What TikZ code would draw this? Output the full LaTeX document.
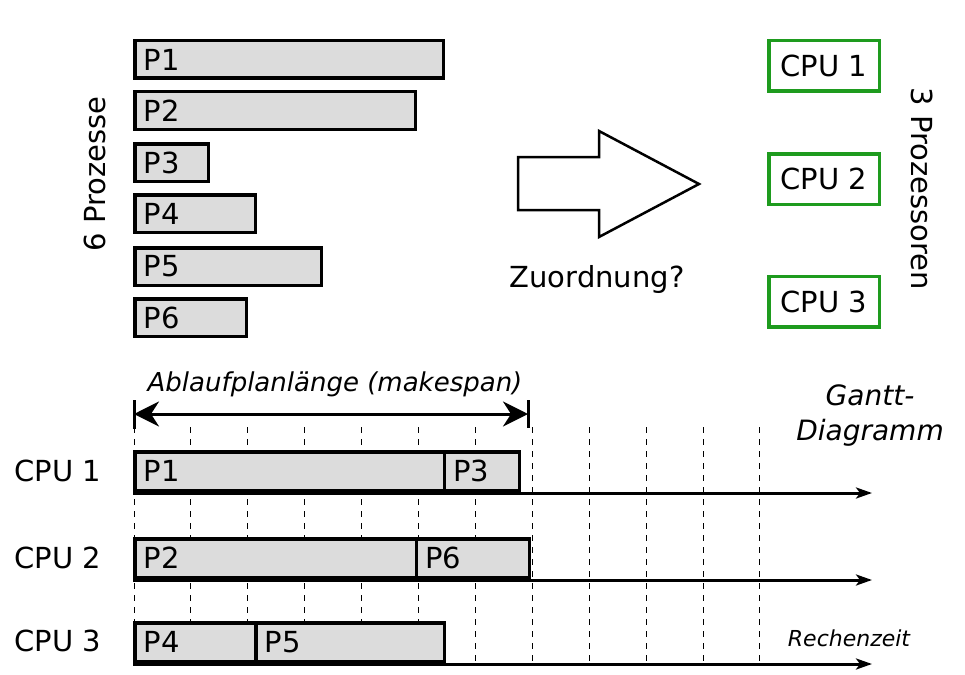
\documentclass[tikz,border=0pt]{standalone}
\usepackage{fontspec}
\setmainfont{DejaVu Sans}
\usetikzlibrary{arrows.meta}
\definecolor{barfill}{RGB}{220,220,220}
\definecolor{cpugreen}{RGB}{30,155,30}
\tikzset{
  bar/.style={draw, line width=3.5pt, fill=barfill, anchor=north west, inner xsep=9pt, inner ysep=0pt, align=left},
  cpubox/.style={draw=cpugreen, line width=3.5pt, minimum width=110.5pt, minimum height=50.5pt},
  slot/.style={dash pattern=on 6pt off 6pt, line width=1pt},
  timeline/.style={line width=3pt, -{Stealth[length=16pt,width=11pt,inset=4pt]}}
}
\begin{document}
\begin{tikzpicture}[x=1pt, y=-1pt, font=\fontsize{29}{35}\selectfont]
  \useasboundingbox (0,0) rectangle (965,674);
  % processes
  \foreach \n/\y/\w in {1/39/290.5, 2/90/262.5, 3/142/55.5, 4/193/102.5, 5/246/168.5, 6/297/93.5}
    \node[bar, text width=\w pt, minimum height=37.5pt] (p\n) at (133,\y) {P\n};
  \node[rotate=90] (prozesse) at (95,174) {6 Prozesse};
  % assignment arrow
  \draw[line width=2.5pt, line join=miter] (518,157) -- (599,157) -- (599,131) -- (699,184)
    -- (599,237) -- (599,210) -- (518,210) -- cycle;
  \node (zuordnung) at (597,279) {Zuordnung?};
  % processors
  \node[cpubox] (cpu1) at (824,66) {CPU 1};
  \node[cpubox] (cpu2) at (824,179) {CPU 2};
  \node[cpubox] (cpu3) at (824,301.5) {CPU 3};
  \node[rotate=-90] (prozessoren) at (922,189) {3 Prozessoren};
  % gantt chart
  \foreach \k in {0,...,11}
    \draw[slot] ({134+56.9*\k},427) -- ({134+56.9*\k},664);
  \coordinate (ms start) at (134,414);
  \coordinate (ms end) at (528,414);
  \draw[line width=3pt] (134,400) -- (134,429) (528,400) -- (528,428);
  \draw[line width=3pt, {Stealth[length=25pt,width=25pt,inset=8pt]}-{Stealth[length=25pt,width=25pt,inset=8pt]}] (ms start) -- (ms end);
  \node[font=\fontsize{26}{31}\selectfont\itshape] (makespan) at (335,384) {Ablaufplanlänge (makespan)};
  \node[font=\fontsize{28}{35}\selectfont\itshape, align=center] (gantt) at (870,416) {Gantt-\\Diagramm};
  \node[font=\fontsize{22}{26}\selectfont\itshape] (rechenzeit) at (849,638) {Rechenzeit};
  \node[bar, text width=291.5pt, minimum height=38.5pt] (g1) at (133,450) {P1};
  \node[bar, text width=57pt, minimum height=38.5pt] (g3) at (442.5,450) {P3};
  \node[bar, text width=263.5pt, minimum height=38.5pt] (g2) at (133,537) {P2};
  \node[bar, text width=95pt, minimum height=38.5pt] (g6) at (414.5,537) {P6};
  \node[bar, text width=103pt, minimum height=38.5pt] (g4) at (133,621) {P4};
  \node[bar, text width=170.5pt, minimum height=38.5pt] (g5) at (254,621) {P5};
  \foreach \r/\y in {1/493, 2/580, 3/664} {
    \coordinate (t\r) at (133,\y);
    \coordinate (e\r) at (872,\y);
    \draw[timeline] (t\r) -- (e\r);
  }
  \node (row1) at (58,471) {CPU 1};
  \node (row2) at (58,558) {CPU 2};
  \node (row3) at (58,641) {CPU 3};
\end{tikzpicture}
\end{document}
